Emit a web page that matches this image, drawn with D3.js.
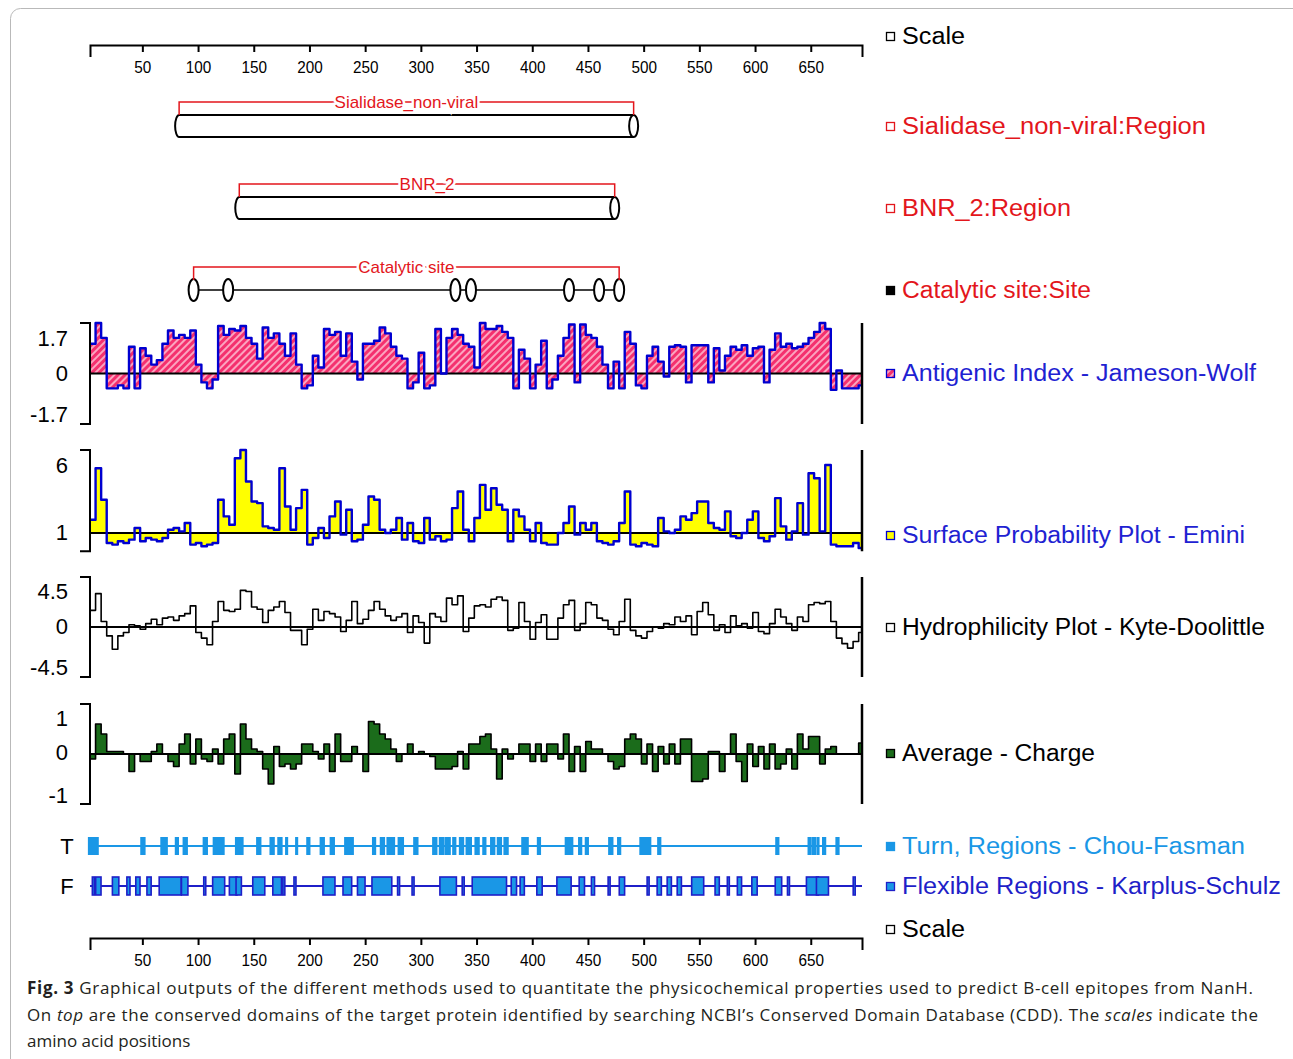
<!DOCTYPE html>
<html>
<head>
<meta charset="utf-8">
<script src="https://cdn.jsdelivr.net/npm/d3@7"></script>
<style>
  body { margin: 0; background: #fff; }
  svg { display: block; }
  .lbl { font-family: "Liberation Sans", Arial, sans-serif; }
</style>
</head>
<body>
<div id="chart"></div>
<script>
// residue scale ticks
var scaleTicks = [50, 100, 150, 200, 250, 300, 350, 400, 450, 500, 550, 600, 650];
var seqFirst = 3, seqLast = 696, seqStep = 5;

// conserved domains (residue of left / right end)
var domainNames = ["Sialidase_non-viral", "BNR_2"];
var domainFrom = [83, 137];
var domainTo = [491, 474];
var catalyticSites = [96, 127, 331, 345, 433, 460, 478];

// per-residue plots, one value every 5 residues starting at residue 3
var antigenic = [1.0,1.7,1.2,-0.5,-0.5,-0.4,-0.5,0.9,-0.5,0.85,0.6,0.3,0.45,1.0,1.45,1.2,1.3,1.2,1.45,0.3,
  -0.3,-0.5,-0.2,1.6,1.3,1.5,1.45,1.6,1.2,1.0,0.5,1.55,1.2,1.35,1.0,0.6,1.35,0.3,-0.5,-0.4,
  0.6,0.2,1.5,1.3,1.4,0.6,1.35,0.4,-0.2,1.0,1.0,1.1,1.55,1.35,0.9,0.6,0.5,-0.5,-0.3,0.7,
  -0.5,-0.4,1.5,0.0,1.2,1.5,1.3,1.0,0.9,0.2,1.7,1.5,1.5,1.6,1.4,1.2,-0.5,0.8,0.5,-0.5,
  0.3,1.1,-0.5,-0.2,0.6,1.2,1.65,-0.3,1.65,1.3,1.2,0.9,0.3,-0.5,0.4,-0.5,1.4,1.0,-0.4,-0.5,
  0.6,0.9,0.4,-0.1,0.9,0.95,0.9,-0.3,0.95,0.95,0.95,-0.3,0.85,0.1,0.6,0.9,0.8,0.95,0.6,0.85,
  0.9,-0.3,0.8,1.35,0.9,1.0,0.85,0.9,1.0,1.2,1.4,1.7,1.5,-0.55,0.1,-0.5,-0.5,-0.5,-0.4];
var emini = [1.8,4.9,3.0,0.4,0.3,0.5,0.4,0.6,1.3,0.5,0.7,0.6,0.5,0.7,1.2,1.3,1.1,1.6,0.3,0.4,
  0.2,0.3,0.4,3.0,2.0,1.5,5.5,6.0,4.1,2.9,2.8,1.4,1.3,1.2,4.9,2.6,1.2,2.5,3.6,0.3,
  0.7,1.3,0.7,2.0,2.9,0.9,2.4,0.5,0.6,1.5,3.2,3.0,1.2,1.0,1.2,1.9,0.6,1.6,0.5,0.4,
  1.9,0.6,0.8,0.5,0.6,2.5,3.5,1.2,0.5,1.9,3.9,2.4,3.7,2.7,2.4,0.5,2.4,2.0,1.2,0.5,
  1.6,0.4,0.3,0.3,1.0,1.6,2.6,0.9,1.6,1.2,1.6,0.5,0.4,0.3,0.5,1.6,3.5,0.3,0.2,0.4,
  0.3,0.2,1.9,1.1,1.0,1.2,2.0,1.8,2.2,2.9,2.9,1.6,1.3,1.2,2.3,0.8,0.7,1.0,1.8,2.3,
  0.7,0.5,0.8,3.1,1.4,0.6,1.1,2.8,0.9,4.6,4.3,1.1,5.1,0.3,0.2,0.2,0.2,0.4,0.1];
var hydrophilicity = [1.5,3.0,0.5,-0.8,-2.0,-0.8,-0.5,0.2,0.1,-0.2,0.3,0.7,0.2,0.8,0.9,0.6,1.0,1.2,1.9,-0.5,
  -1.0,-1.6,0.5,2.3,1.5,1.4,1.6,3.3,3.2,1.8,1.6,0.4,1.5,1.8,2.3,1.3,-0.3,-0.3,-1.6,-0.2,
  1.6,0.6,1.4,1.2,0.9,-0.4,0.6,2.3,0.3,0.7,1.5,2.3,1.6,1.0,0.6,0.9,1.2,-0.5,1.0,0.4,
  -1.45,1.2,0.9,0.5,2.6,2.0,2.8,-0.4,0.8,1.9,2.0,1.8,2.5,2.7,2.4,-0.3,-0.1,2.2,0.5,-1.1,
  0.4,1.1,-1.1,-1.1,0.8,2.0,2.4,-0.3,0.3,2.2,2.0,0.8,0.6,-0.2,-0.7,0.5,2.5,-0.3,-0.8,-1.0,
  -0.4,0.0,-0.1,0.3,0.2,0.9,0.5,1.0,-0.7,1.4,2.2,1.1,-0.3,0.2,-0.5,1.0,0.1,0.3,-0.1,1.3,
  -0.4,-0.6,0.3,1.6,0.9,0.3,-0.3,0.9,0.5,2.0,2.2,2.1,2.3,0.5,-1.0,-1.5,-1.9,-1.3,-0.5];
var charge = [-0.1,0.6,0.4,0.05,0.05,0.05,0.0,-0.35,0.0,-0.15,-0.15,0.05,0.2,0.0,-0.15,-0.25,0.2,0.4,-0.2,0.3,
  -0.1,-0.15,0.1,-0.2,0.3,0.4,-0.4,0.6,0.3,0.1,0.05,-0.3,-0.6,0.15,-0.25,-0.2,-0.3,-0.2,0.2,0.2,
  0.05,-0.1,0.2,-0.35,0.4,-0.15,-0.15,0.15,0.0,-0.35,0.65,0.6,0.4,0.3,0.1,-0.15,0.0,0.2,0.0,0.05,
  0.0,-0.05,-0.3,-0.3,-0.3,-0.25,0.05,-0.3,0.2,0.2,0.35,0.4,0.1,-0.5,0.1,-0.1,0.0,0.2,0.2,-0.15,
  0.2,-0.15,0.2,0.2,-0.1,0.4,-0.35,0.15,-0.35,0.25,0.1,0.1,0.0,-0.15,-0.3,-0.25,0.3,0.4,0.3,-0.2,
  0.2,-0.35,0.15,-0.2,0.2,-0.2,0.3,0.3,-0.55,-0.55,-0.5,0.05,0.05,-0.35,0.0,0.4,-0.15,-0.55,0.2,-0.25,
  0.15,-0.3,0.2,-0.3,-0.2,0.1,-0.3,0.4,0.1,0.35,0.35,-0.2,0.1,0.15,0.0,0.0,0.0,0.0,0.22];

// predicted regions [from, to] in residues
var turnRegions = [[2,10],[49,52],[67,72],[80,82],[87,90],[105,108],[114,123],[134,140],[153,156],[165,168],
  [172,175],[179,180],[188,189],[198,200],[210,213],[219,222],[232,239],[257,259],[264,267],[270,276],
  [280,284],[294,297],[311,314],[317,320],[322,326],[329,331],[335,338],[341,345],[349,352],[356,358],
  [363,366],[369,372],[375,378],[391,396],[405,407],[430,436],[442,444],[448,450],[469,472],[477,479],
  [497,506],[513,515],[619,621],[648,650],[652,654],[656,657],[661,663],[673,675]];
var flexRegions = [[6,6],[9,12],[24,28],[37,38],[45,47],[55,57],[66,84],[86,90],[106,106],[114,123],
  [129,134],[135,138],[150,159],[168,174],[177,177],[187,187],[213,222],[231,237],[244,249],[257,273],
  [280,280],[293,293],[318,331],[338,338],[347,376],[382,385],[390,392],[405,408],[423,434],[443,446],
  [454,455],[469,469],[479,482],[504,504],[513,515],[522,524],[531,533],[544,553],[565,567],[576,576],
  [585,587],[598,601],[619,623],[630,630],[647,656],[656,665],[689,689]];

var legendNames = ["Scale", "Sialidase_non-viral:Region", "BNR_2:Region", "Catalytic site:Site",
  "Antigenic Index - Jameson-Wolf", "Surface Probability Plot - Emini", "Hydrophilicity Plot - Kyte-Doolittle",
  "Average - Charge", "Turn, Regions - Chou-Fasman", "Flexible Regions - Karplus-Schulz", "Scale"];

var RED = "#e3161c", BLUE = "#1e22d2", LIGHT = "#1a97e6", NAVY = "#1f1fc8", GREEN = "#1b6c1b";

var width = 1293, height = 1059;
var svg = d3.select("#chart").append("svg").attr("width", width).attr("height", height);

svg.append("rect").attr("x", 10.5).attr("y", 8.5).attr("width", 1300).attr("height", 1070)
  .attr("rx", 10).attr("fill", "none").attr("stroke", "#b9b9b9").attr("stroke-width", 1);

var defs = svg.append("defs");
var hatch = defs.append("pattern").attr("id", "hatch").attr("patternUnits", "userSpaceOnUse")
  .attr("width", 5).attr("height", 5).attr("patternTransform", "rotate(45)");
hatch.append("rect").attr("width", 5).attr("height", 5).attr("fill", "#f4306e");
hatch.append("line").attr("x1", 1).attr("y1", 0).attr("x2", 1).attr("y2", 5)
  .attr("stroke", "#ffd6e2").attr("stroke-width", 1.4);

var x = d3.scaleLinear().domain([seqFirst, seqLast]).range([90, 862]);

//Residue ruler, drawn at the top and the bottom
function drawScale(yPos) {
  var g = svg.append("g").attr("transform", "translate(0," + yPos + ")")
    .call(d3.axisBottom(x).tickValues(scaleTicks).tickSize(7).tickSizeOuter(12).tickPadding(9));
  g.selectAll("path, line").attr("stroke", "#000").attr("stroke-width", 2);
  g.selectAll("text").attr("class", "lbl").attr("font-size", 17).attr("fill", "#000")
    .attr("transform", "scale(0.9,1)");
}
drawScale(45);
drawScale(938);

// domain cylinders
function bracket(r0, r1, cy, label) {
  var top = cy - 24;
  svg.append("path")
    .attr("d", "M" + x(r0) + "," + (cy - 11) + "V" + top + "H" + x(r1) + "V" + (cy - 11))
    .attr("fill", "none").attr("stroke", RED).attr("stroke-width", 1.5);
  svg.append("text").attr("class", "lbl").attr("x", (x(r0) + x(r1)) / 2).attr("y", top)
    .attr("dy", "0.35em").attr("text-anchor", "middle").attr("font-size", 17)
    .attr("fill", RED).attr("stroke", "#fff").attr("stroke-width", 5).attr("paint-order", "stroke")
    .text(label);
}

var domainY = [126, 208];
domainNames.forEach(function (name, i) {
  var cy = domainY[i], x0 = x(domainFrom[i]), x1 = x(domainTo[i]);
  svg.append("path")
    .attr("d", "M" + x0 + "," + (cy - 11) + "H" + x1 + "M" + x0 + "," + (cy + 11) + "H" + x1 +
      "M" + x0 + "," + (cy - 11) + "A4,11 0 0 0 " + x0 + "," + (cy + 11))
    .attr("fill", "none").attr("stroke", "#000").attr("stroke-width", 2);
  svg.append("ellipse").attr("cx", x1).attr("cy", cy).attr("rx", 4.5).attr("ry", 11)
    .attr("fill", "#fff").attr("stroke", "#000").attr("stroke-width", 2);
  bracket(domainFrom[i], domainTo[i], cy, name);
});

var siteY = 290;
svg.append("line").attr("x1", x(d3.min(catalyticSites))).attr("x2", x(d3.max(catalyticSites)))
  .attr("y1", siteY).attr("y2", siteY).attr("stroke", "#000").attr("stroke-width", 1.5);
svg.selectAll(".site").data(catalyticSites).enter().append("ellipse")
  .attr("cx", function (d) { return x(d); }).attr("cy", siteY).attr("rx", 5).attr("ry", 11)
  .attr("fill", "#fff").attr("stroke", "#000").attr("stroke-width", 2);
bracket(d3.min(catalyticSites), d3.max(catalyticSites), siteY + 1, "Catalytic site");

// property plots
function toPoints(values) {
  var pts = values.map(function (v, i) { return {r: seqFirst + i * seqStep, v: v}; });
  pts.push({r: seqLast, v: values[values.length - 1]});
  return pts;
}

function drawPanel(values, y, base, bottomVal, opts) {
  var pts = toPoints(values);
  var area = d3.area().curve(d3.curveStepAfter)
    .x(function (d) { return x(d.r); }).y0(y(base)).y1(function (d) { return y(d.v); });
  var line = d3.line().curve(d3.curveStepAfter)
    .x(function (d) { return x(d.r); }).y(function (d) { return y(d.v); });
  if (opts.fill) {
    svg.append("path").datum(pts).attr("d", area).attr("fill", opts.fill);
  }
  svg.append("line").attr("x1", 90).attr("x2", 862).attr("y1", y(base)).attr("y2", y(base))
    .attr("stroke", "#000").attr("stroke-width", 2);
  svg.append("path").datum(pts).attr("d", line).attr("fill", "none")
    .attr("stroke", opts.stroke).attr("stroke-width", opts.sw).attr("stroke-linejoin", "round");
  var topY = y(y.domain()[1]), botY = y(bottomVal);
  // left bracket and right border
  svg.append("path").attr("d", "M80," + topY + "H90V" + botY + "H80")
    .attr("fill", "none").attr("stroke", "#000").attr("stroke-width", 2);
  svg.append("line").attr("x1", 862).attr("x2", 862).attr("y1", topY).attr("y2", botY)
    .attr("stroke", "#000").attr("stroke-width", 2.5);
  opts.labels.forEach(function (t, i) {
    svg.append("text").attr("class", "lbl").attr("x", 68).attr("y", opts.labelY[i])
      .attr("dy", "0.36em").attr("text-anchor", "end").attr("font-size", 22).attr("fill", "#000")
      .text(t);
  });
}

var yAI = d3.scaleLinear().domain([-1.7, 1.7]).range([424, 323]);
drawPanel(antigenic, yAI, 0, -1.7, {fill: "url(#hatch)", stroke: "#0000d0", sw: 2.4,
  labels: ["1.7", "0", "-1.7"], labelY: [338, 373, 414]});
var ySP = d3.scaleLinear().domain([1, 6]).range([533, 450]);
drawPanel(emini, ySP, 1, -0.1, {fill: "#ffff00", stroke: "#0000d0", sw: 2.4,
  labels: ["6", "1"], labelY: [465, 532]});
var yKD = d3.scaleLinear().domain([-4.5, 4.5]).range([677, 577]);
drawPanel(hydrophilicity, yKD, 0, -4.5, {fill: null, stroke: "#000", sw: 1.6,
  labels: ["4.5", "0", "-4.5"], labelY: [591, 626, 667]});
var yCH = d3.scaleLinear().domain([-1, 1]).range([804, 704]);
drawPanel(charge, yCH, 0, -1, {fill: GREEN, stroke: "#000", sw: 1.6,
  labels: ["1", "0", "-1"], labelY: [718, 752, 795]});

// turn and flexible regions
function drawRegions(regions, cy, lineColor, fill, stroke, tag) {
  svg.append("line").attr("x1", 90).attr("x2", 862).attr("y1", cy).attr("y2", cy)
    .attr("stroke", lineColor).attr("stroke-width", 2);
  svg.selectAll(".reg" + tag).data(regions).enter().append("rect")
    .attr("x", function (d) { return x(d[0]) - 1; })
    .attr("width", function (d) { return Math.max(2, x(d[1]) - x(d[0]) + 2); })
    .attr("y", cy - 9).attr("height", 18)
    .attr("fill", fill).attr("stroke", stroke).attr("stroke-width", stroke ? 1.6 : 0);
  svg.append("text").attr("class", "lbl").attr("x", 67).attr("y", cy).attr("dy", "0.36em")
    .attr("text-anchor", "middle").attr("font-size", 22).text(tag);
}
drawRegions(turnRegions, 846, LIGHT, LIGHT, null, "T");
drawRegions(flexRegions, 886, NAVY, LIGHT, NAVY, "F");

// legend on the right
var legendY = [36, 126, 208, 290, 373, 535, 627, 753, 846, 886, 929];
var legendColor = ["#000", RED, RED, RED, BLUE, BLUE, "#000", "#000", LIGHT, NAVY, "#000"];
var legendBox = ["#fff", "#fff", "#fff", "#000", "url(#hatch)", "#ffff00", "#fff", GREEN, LIGHT, LIGHT, "#fff"];
var legendBoxLine = ["#000", RED, RED, "#000", "#0000d0", "#0000d0", "#000", "#000", LIGHT, NAVY, "#000"];
var legendWidth = [63, 304, 169, 189, 354, 343, 363, 193, 343, 379, 63];
legendNames.forEach(function (name, i) {
  svg.append("rect").attr("x", 886.5).attr("y", legendY[i] - 3.5).attr("width", 8).attr("height", 8)
    .attr("fill", legendBox[i]).attr("stroke", legendBoxLine[i]).attr("stroke-width", 1.3);
  svg.append("text").attr("class", "lbl").attr("x", 902).attr("y", legendY[i]).attr("dy", "0.36em")
    .attr("font-size", 23).attr("fill", legendColor[i])
    .attr("textLength", legendWidth[i]).attr("lengthAdjust", "spacingAndGlyphs").text(name);
});

// caption
var cap = svg.append("g").attr("font-family", "'Open Sans', 'Noto Sans', sans-serif")
  .attr("font-size", 17).attr("fill", "#231f20");
var l1 = cap.append("text").attr("x", 27).attr("y", 994).attr("textLength", 1226).attr("lengthAdjust", "spacing");
l1.append("tspan").attr("font-weight", "bold").text("Fig. 3");
l1.append("tspan").text("  Graphical outputs of the different methods used to quantitate the physicochemical properties used to predict B-cell epitopes from NanH.");
var l2 = cap.append("text").attr("x", 27).attr("y", 1021).attr("textLength", 1231).attr("lengthAdjust", "spacing");
l2.append("tspan").text("On ");
l2.append("tspan").attr("font-style", "italic").text("top");
l2.append("tspan").text(" are the conserved domains of the target protein identified by searching NCBI\u2019s Conserved Domain Database (CDD). The ");
l2.append("tspan").attr("font-style", "italic").text("scales");
l2.append("tspan").text(" indicate the");
cap.append("text").attr("x", 27).attr("y", 1047).text("amino acid positions");
</script>
</body>
</html>
